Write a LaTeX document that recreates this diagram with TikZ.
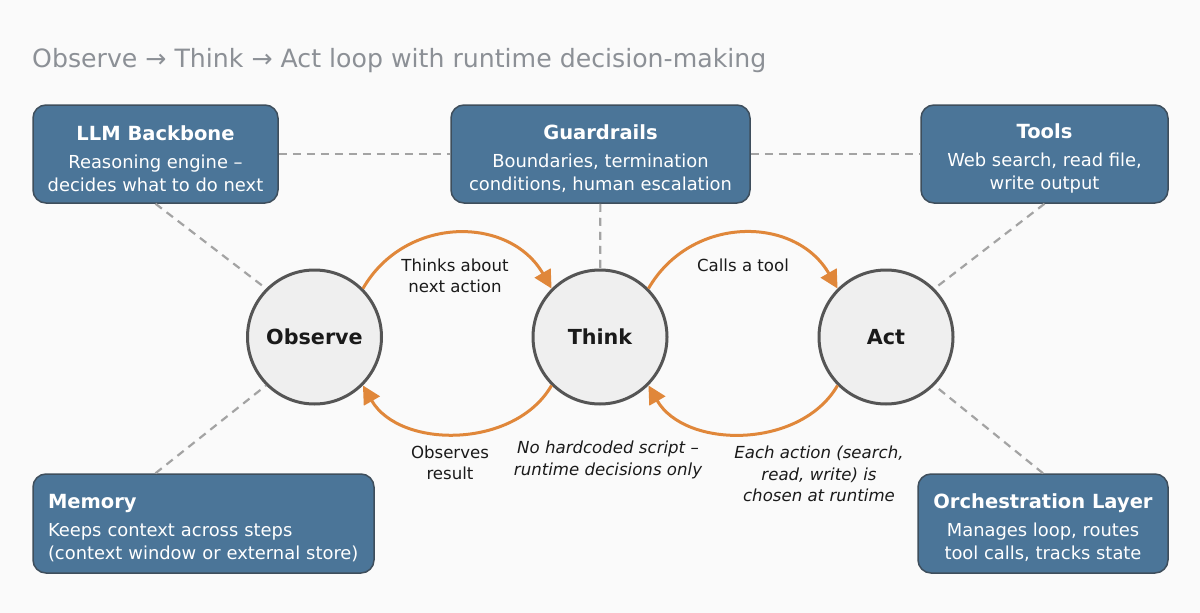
\documentclass[tikz,border=0pt]{standalone}
\usepackage{fontspec}
\setmainfont{DejaVu Sans}
\usetikzlibrary{arrows.meta}

\definecolor{paper}{HTML}{FAFAFA}
\definecolor{boxblue}{HTML}{4B7598}
\definecolor{boxedge}{HTML}{3E4E5C}
\definecolor{ringfill}{HTML}{EFEFEF}
\definecolor{ringgrey}{HTML}{555555}
\definecolor{flowor}{HTML}{E0873A}
\definecolor{linkgrey}{HTML}{A3A3A3}
\definecolor{headgrey}{HTML}{8C9096}
\definecolor{ink}{HTML}{1A1A1A}

\tikzset{
  part/.style={draw=boxedge, fill=boxblue, line width=1.5pt, rounded corners=13pt,
    text=white, align=center, inner sep=0pt, font=\fontsize{17.9}{23}\selectfont},
  phase/.style={circle, draw=ringgrey, fill=ringfill, line width=3pt, minimum size=134pt,
    text=ink, font=\fontsize{20.7}{24}\selectfont\bfseries},
  link/.style={draw=linkgrey, line width=2.2pt, dash pattern=on 8pt off 6pt},
  flow/.style={draw=flowor, line width=3pt, -{Triangle[length=18pt,width=18pt]}},
  note/.style={align=center, text=ink, font=\fontsize{16.6}{21.5}\selectfont}
}
\newcommand{\parttitle}[1]{{\rule{0pt}{24pt}\fontsize{19.5}{23}\selectfont\bfseries #1}\\[5pt]}

\begin{document}
\begin{tikzpicture}[x=1pt, y=-1pt]
  \fill[paper] (0,0) rectangle (1200,613);

  \node[anchor=west, inner sep=0pt, text=headgrey, font=\fontsize{25.2}{30}\selectfont] (heading) at (32,61)
    {Observe → Think → Act loop with runtime decision-making};

  % building blocks
  \node[part, minimum width=245pt, minimum height=98pt] (llm) at (155.5,154)
    {\parttitle{LLM Backbone}Reasoning engine –\\decides what to do next};
  \node[part, minimum width=299pt, minimum height=98pt] (guard) at (600.5,154)
    {\parttitle{Guardrails}Boundaries, termination\\conditions, human escalation};
  \node[part, minimum width=247pt, minimum height=98pt] (tools) at (1044.5,154)
    {\parttitle{Tools}Web search, read file,\\write output};
  \node[part, align=left, text width=311pt, inner xsep=15pt, minimum height=99pt] (mem) at (203.5,523.5)
    {\parttitle{Memory}Keeps context across steps\\(context window or external store)};
  \node[part, minimum width=250pt, minimum height=99pt] (orch) at (1043,523.5)
    {\parttitle{Orchestration Layer}Manages loop, routes\\tool calls, tracks state};

  % the loop
  \node[phase] (obs) at (314.5,337) {Observe};
  \node[phase] (think) at (600,337) {Think};
  \node[phase] (act) at (886,337) {Act};

  \draw[link] (llm) -- (guard);
  \draw[link] (guard) -- (tools);
  \draw[link] (guard) -- (think);
  \draw[link] (llm.south) -- (obs.135);
  \draw[link] (mem.north -| llm.south) -- (obs.225);
  \draw[link] (tools.south) -- (act.45);
  \draw[link] (orch.north) -- (act.-45);

  \draw[flow] (obs.45) to[bend left=60, looseness=1.15] (think.135);
  \draw[flow] (think.45) to[bend left=60, looseness=1.15] (act.135);
  \draw[flow] (act.225) to[bend left=60] (think.-45);
  \draw[flow] (think.225) to[bend left=60] (obs.-45);

  \node[note] (thinks) at (455,276) {Thinks about\\next action};
  \node[note] (calls) at (743,265) {Calls a tool};
  \node[note] (observes) at (450,463) {Observes\\result};
  \node[note, font=\fontsize{16.6}{21.5}\selectfont\itshape] (noscript) at (608,460)
    {No hardcoded script –\\runtime decisions only};
  \node[note, font=\fontsize{16.6}{21.5}\selectfont\itshape] (each) at (819,474)
    {Each action (search,\\read, write) is\\chosen at runtime};
\end{tikzpicture}
\end{document}
